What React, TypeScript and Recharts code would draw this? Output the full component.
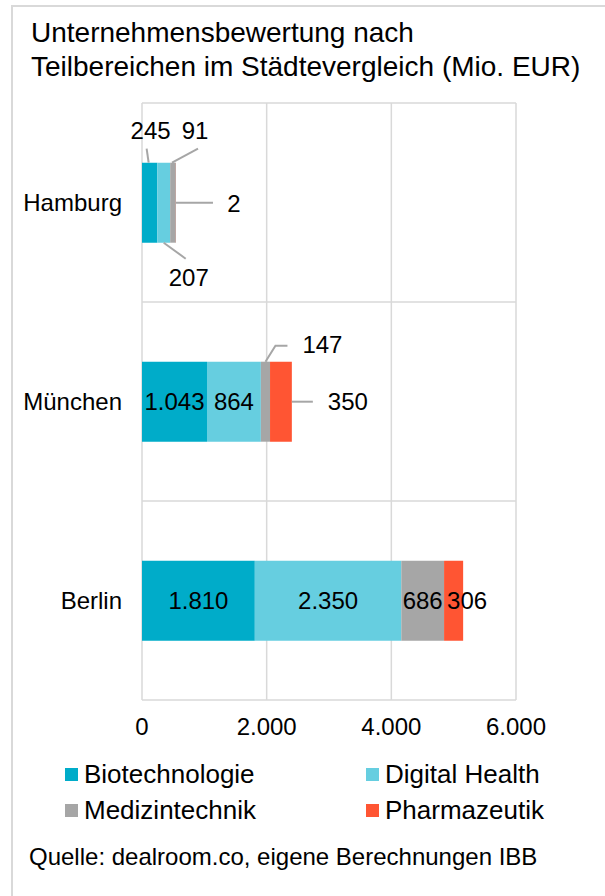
import React from "react";
import { BarChart, Bar, XAxis, YAxis, CartesianGrid, LabelList } from "recharts";

const cities = ["Hamburg", "München", "Berlin"];
const biotech = [245, 1043, 1810];
const digitalHealth = [207, 864, 2350];
const medtech = [91, 147, 686];
const pharma = [2, 350, 306];
const xTicks = [0, 2000, 4000, 6000];

const series = [
  { key: "biotech", name: "Biotechnologie", color: "#00ACC9", values: biotech },
  { key: "digital", name: "Digital Health", color: "#66CEE0", values: digitalHealth },
  { key: "medtech", name: "Medizintechnik", color: "#A6A6A6", values: medtech },
  { key: "pharma", name: "Pharmazeutik", color: "#FF5533", values: pharma },
];

const data = cities.map((city, i) => {
  const row: any = { city };
  series.forEach((s) => (row[s.key] = s.values[i]));
  return row;
});

const FONT = "'Liberation Sans', Arial, sans-serif";
const fmt = (v: number) => String(v).replace(/\B(?=(\d{3})+(?!\d))/g, ".");

// callout placement for small segments: anchor on the segment, leader line, label offset
const callouts: Record<string, Record<number, any>> = {
  biotech: { 0: { at: "top", dx: -1, line: [[-2, -14]], label: [2, -32] } },
  digital: { 0: { at: "bottom", dx: 0, line: [[22, 16]], label: [25, 35] } },
  medtech: {
    0: { at: "top", dx: -1, line: [[26, -14]], label: [23, -32] },
    1: { at: "top", dx: 0, line: [[10, -16], [22, -16]], label: [57, -17] },
  },
  pharma: {
    0: { at: "right", dx: 0, line: [[37, 0]], label: [58, 1] },
    1: { at: "right", dx: 0, line: [[21, 0]], label: [56, 0] },
    2: { at: "start", dx: 3 },
  },
};

const makeLabel = (key: string) => (props: any) => {
  const vb = props.viewBox || props;
  const x = Number(vb.x ?? props.x);
  const y = Number(vb.y ?? props.y);
  const w = Number(vb.width ?? props.width);
  const h = Number(vb.height ?? props.height);
  const idx = props.index;
  const c = callouts[key] && callouts[key][idx];
  const txt = fmt(Number(props.value));
  const textProps = { fontSize: 24, fontFamily: FONT, fill: "#000", dominantBaseline: "central" as const };
  if (!c) {
    return (
      <text x={x + w / 2} y={y + h / 2} textAnchor="middle" {...textProps}>
        {txt}
      </text>
    );
  }
  if (c.at === "start") {
    return (
      <text x={x + c.dx} y={y + h / 2} textAnchor="start" {...textProps}>
        {txt}
      </text>
    );
  }
  let ax = x + w / 2 + c.dx;
  let ay = y;
  if (c.at === "bottom") ay = y + h;
  if (c.at === "right") {
    ax = x + w;
    ay = y + h / 2;
  }
  const pts = [[ax, ay], ...c.line.map((p: number[]) => [ax + p[0], ay + p[1]])];
  return (
    <g>
      <polyline points={pts.map((p) => p.join(",")).join(" ")} fill="none" stroke="#A6A6A6" strokeWidth={2} />
      <text x={ax + c.label[0]} y={ay + c.label[1]} textAnchor="middle" {...textProps}>
        {txt}
      </text>
    </g>
  );
};

export default function App() {
  return (
    <div style={{ position: "absolute", left: 0, top: 0, width: 605, height: 896, background: "#fff", overflow: "hidden", fontFamily: FONT, color: "#000" }}>
      <div style={{ position: "absolute", left: 11, top: 5, width: 620, height: 920, borderTop: "2px solid #d9d9d9", borderLeft: "2px solid #d9d9d9" }} />
      <div style={{ position: "absolute", left: 31, top: 16, fontSize: 28, lineHeight: "34px", whiteSpace: "nowrap" }}>
        Unternehmensbewertung nach
        <br />
        Teilbereichen im Städtevergleich (Mio. EUR)
      </div>
      <div style={{ position: "absolute", left: 0, top: 0 }}>
        <BarChart width={605} height={760} data={data} layout="vertical" barCategoryGap="30%" margin={{ top: 103, right: 89, bottom: 0, left: 0 }}>
          <CartesianGrid
            stroke="#d9d9d9"
            strokeWidth={1.5}
            horizontalCoordinatesGenerator={({ offset }: any) => [0, 1, 2, 3].map((i) => offset.top + (offset.height * i) / 3)}
          />
          <XAxis
            type="number"
            domain={[0, 6000]}
            ticks={xTicks}
            tickFormatter={fmt}
            axisLine={false}
            tickLine={false}
            tickMargin={12}
            height={60}
            tick={{ fontSize: 24, fill: "#000", fontFamily: FONT }}
            interval={0}
          />
          <YAxis
            type="category"
            dataKey="city"
            width={142}
            axisLine={false}
            tickLine={false}
            tickMargin={14}
            tick={{ fontSize: 24, fill: "#000", fontFamily: FONT }}
          />
          {series.map((s) => (
            <Bar key={s.key} dataKey={s.key} name={s.name} stackId="a" fill={s.color} isAnimationActive={false}>
              <LabelList dataKey={s.key} content={makeLabel(s.key)} />
            </Bar>
          ))}
        </BarChart>
      </div>
      {series.map((s, i) => (
        <div
          key={s.key}
          style={{ position: "absolute", left: i % 2 === 0 ? 65 : 366, top: i < 2 ? 759 : 795, height: 30, display: "flex", alignItems: "center", fontSize: 26, whiteSpace: "nowrap" }}
        >
          <span style={{ display: "inline-block", width: 13, height: 13, background: s.color, marginRight: 6 }} />
          {s.name}
        </div>
      ))}
      <div style={{ position: "absolute", left: 29, top: 843, fontSize: 24, whiteSpace: "nowrap" }}>
        Quelle: dealroom.co, eigene Berechnungen IBB
      </div>
    </div>
  );
}
